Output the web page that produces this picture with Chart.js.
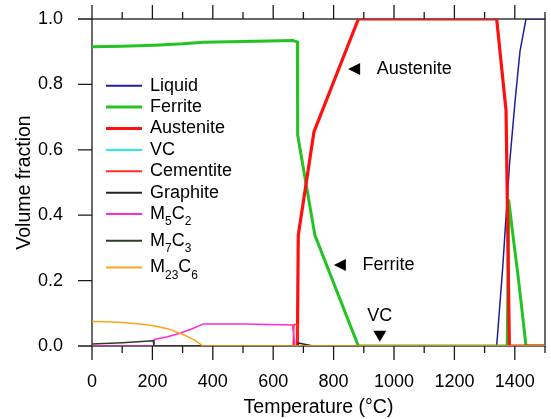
<!DOCTYPE html>
<html>
<head>
<meta charset="utf-8">
<script src="https://cdn.jsdelivr.net/npm/chart.js@4.4.1/dist/chart.umd.min.js"></script>
<style>
  html, body { margin: 0; padding: 0; background: #fff; }
  canvas { display: block; }
</style>
</head>
<body>
<canvas id="chart" width="551" height="419"></canvas>
<script>
// phase fractions: temperature (°C) -> volume fraction
const liquidT = [0, 1340, 1360, 1382, 1401, 1417, 1437, 1500];
const liquidF = [0, 0, 0.24, 0.55, 0.75, 0.9, 1, 1];

const ferriteT = [0, 100, 208, 300, 368, 500, 666, 680, 681, 738, 882, 1000, 1200, 1375, 1380, 1395, 1410, 1425, 1437, 1500];
const ferriteF = [0.915, 0.917, 0.920, 0.924, 0.929, 0.931, 0.934, 0.930, 0.645, 0.339, 0, 0, 0, 0, 0.445, 0.33, 0.22, 0.10, 0, 0];

const austeniteT = [680, 683, 735, 882, 1340, 1371, 1382, 1500];
const austeniteF = [0, 0.339, 0.655, 1, 1, 0.72, 0, 0];

const vcT = [0, 1500];
const vcF = [0, 0];

const cementiteT = [0, 666, 669, 680, 681, 1500];
const cementiteF = [0, 0, 0.066, 0.066, 0, 0];

const graphiteT = [0, 682, 683, 732, 1500];
const graphiteF = [0, 0, 0.009, 0, 0];

const m5c2T = [0, 203, 205, 250, 291, 330, 368, 500, 664, 672, 1500];
const m5c2F = [0, 0, 0.02, 0.028, 0.039, 0.052, 0.067, 0.067, 0.064, 0, 0];

const m7c3T = [0, 100, 203, 205, 1500];
const m7c3F = [0.006, 0.010, 0.016, 0, 0];

const m23c6T = [0, 50, 100, 150, 200, 250, 300, 340, 368, 1500];
const m23c6F = [0.075, 0.074, 0.072, 0.068, 0.063, 0.053, 0.036, 0.018, 0, 0];

const xMajorTicks = [0, 200, 400, 600, 800, 1000, 1200, 1400];
const xMinorTicks = [100, 300, 500, 700, 900, 1100, 1300, 1500];
const yTicks = [0, 0.2, 0.4, 0.6, 0.8, 1.0];

// text annotations with arrow tips (data coords)
const annoText = ['Austenite', 'Ferrite', 'VC'];
const annoT = [848, 801, 953];
const annoF = [0.847, 0.248, 0.013];

const FONT = '"Liberation Sans", Arial, sans-serif';
Chart.defaults.font.family = FONT;
Chart.defaults.font.size = 18;
Chart.defaults.color = '#000';

function pts(T, F) {
  return T.map((t, i) => ({ x: t, y: F[i] }));
}

const series = [
  { label: 'Liquid', T: liquidT, F: liquidF, color: '#1f1f9a', width: 1.5 },
  { label: 'Ferrite', T: ferriteT, F: ferriteF, color: '#22c322', width: 3 },
  { label: 'Austenite', T: austeniteT, F: austeniteF, color: '#ff1010', width: 3.2 },
  { label: 'VC', T: vcT, F: vcF, color: '#22f0f0', width: 1.5 },
  { label: 'Cementite', T: cementiteT, F: cementiteF, color: '#ff2a2a', width: 1.5 },
  { label: 'Graphite', T: graphiteT, F: graphiteF, color: '#222222', width: 1.5 },
  { label: 'M_5C_2', T: m5c2T, F: m5c2F, color: '#ff2ad4', width: 1.5 },
  { label: 'M_7C_3', T: m7c3T, F: m7c3F, color: '#2d3d26', width: 1.5 },
  { label: 'M_{23}C_6', T: m23c6T, F: m23c6F, color: '#ffa31a', width: 1.5 }
];

// axis box + major/minor tick marks
const framePlugin = {
  id: 'frame',
  beforeDatasetsDraw(chart) {
    const { ctx, chartArea: a, scales: { x, y } } = chart;
    ctx.save();
    ctx.strokeStyle = '#1a1a1a';
    ctx.lineWidth = 1.3;
    ctx.strokeRect(a.left, a.top, a.right - a.left, a.bottom - a.top);
    ctx.beginPath();
    xMajorTicks.forEach(v => {
      const px = x.getPixelForValue(v);
      ctx.moveTo(px, a.bottom); ctx.lineTo(px, a.bottom + 14);
      ctx.moveTo(px, a.top); ctx.lineTo(px, a.top - 14);
    });
    xMinorTicks.forEach(v => {
      const px = x.getPixelForValue(v);
      ctx.moveTo(px, a.bottom); ctx.lineTo(px, a.bottom + 7);
      ctx.moveTo(px, a.top); ctx.lineTo(px, a.top - 7);
    });
    yTicks.forEach(v => {
      const py = y.getPixelForValue(v);
      ctx.moveTo(a.left, py); ctx.lineTo(a.left - 14, py);
    });
    ctx.stroke();
    ctx.restore();
  }
};

function drawSubText(ctx, str, x0, y0) {
  // "_5" or "_{23}" -> subscript
  const parts = str.split(/_(\{[^}]*\}|\d)/);
  let xx = x0;
  parts.forEach((p, i) => {
    if (!p) return;
    const sub = i % 2 === 1;
    const txt = p.replace(/[{}]/g, '');
    ctx.font = (sub ? 12 : 18) + 'px ' + FONT;
    ctx.fillText(txt, xx, sub ? y0 + 8 : y0);
    xx += ctx.measureText(txt).width;
  });
}

const legendPlugin = {
  id: 'customLegend',
  afterDraw(chart) {
    const { ctx } = chart;
    ctx.save();
    ctx.textBaseline = 'middle';
    ctx.textAlign = 'left';
    ctx.fillStyle = '#000';
    let yy = 85.7;
    series.forEach((s, i) => {
      ctx.strokeStyle = s.color;
      ctx.lineWidth = s.width >= 3 ? 3 : 2;
      ctx.beginPath();
      ctx.moveTo(106, yy); ctx.lineTo(142, yy);
      ctx.stroke();
      drawSubText(ctx, s.label, 150, yy);
      yy += s.label.includes('_') ? 26.7 : 21.4;
    });
    ctx.restore();
  }
};

const annoPlugin = {
  id: 'anno',
  afterDatasetsDraw(chart) {
    const { ctx, scales: { x, y } } = chart;
    ctx.save();
    ctx.fillStyle = '#000';
    ctx.font = '18px ' + FONT;
    ctx.textBaseline = 'middle';
    annoText.forEach((t, i) => {
      const px = x.getPixelForValue(annoT[i]);
      const py = y.getPixelForValue(annoF[i]);
      ctx.beginPath();
      if (t === 'VC') {
        ctx.moveTo(px, py); ctx.lineTo(px - 6.5, py - 11); ctx.lineTo(px + 6.5, py - 11);
        ctx.closePath(); ctx.fill();
        ctx.textAlign = 'center';
        ctx.fillText(t, px, py - 26);
      } else {
        ctx.moveTo(px, py); ctx.lineTo(px + 12, py - 6); ctx.lineTo(px + 12, py + 6);
        ctx.closePath(); ctx.fill();
        ctx.textAlign = 'left';
        ctx.fillText(t, px + 28.7, py);
      }
    });
    ctx.restore();
  }
};

new Chart(document.getElementById('chart'), {
  type: 'line',
  data: {
    datasets: series.map((s, i) => ({
      label: s.label,
      data: pts(s.T, s.F),
      borderColor: s.color,
      backgroundColor: s.color,
      borderWidth: s.width,
      pointRadius: 0,
      tension: 0,
      fill: false,
      borderJoinStyle: 'round',
      order: series.length - i
    }))
  },
  options: {
    responsive: false,
    animation: false,
    layout: { padding: { top: 19, right: 6, left: 0, bottom: 0 } },
    plugins: {
      legend: { display: false },
      tooltip: { enabled: false }
    },
    scales: {
      x: {
        type: 'linear',
        min: 0,
        max: 1500,
        grid: { display: false },
        border: { display: false },
        afterBuildTicks: s => { s.ticks = xMajorTicks.map(v => ({ value: v })); },
        afterFit: s => { s.height = 73; s.paddingLeft = 0; s.paddingRight = 0; },
        ticks: { padding: 17, maxRotation: 0, font: { size: 18 }, callback: v => String(v) },
        title: { display: true, text: 'Temperature (°C)', font: { size: 19.5 }, padding: { top: 0, bottom: 0 } }
      },
      y: {
        type: 'linear',
        min: 0,
        max: 1,
        grid: { display: false },
        border: { display: false },
        afterBuildTicks: s => { s.ticks = yTicks.map(v => ({ value: v })); },
        afterFit: s => { s.width = 92; s.paddingTop = 0; s.paddingBottom = 0; },
        ticks: { padding: 21, font: { size: 18 }, callback: v => v.toFixed(1) },
        title: { display: true, text: 'Volume fraction', font: { size: 19.5 }, padding: { top: 13, bottom: 0 } }
      }
    }
  },
  plugins: [framePlugin, legendPlugin, annoPlugin]
});
</script>
</body>
</html>
